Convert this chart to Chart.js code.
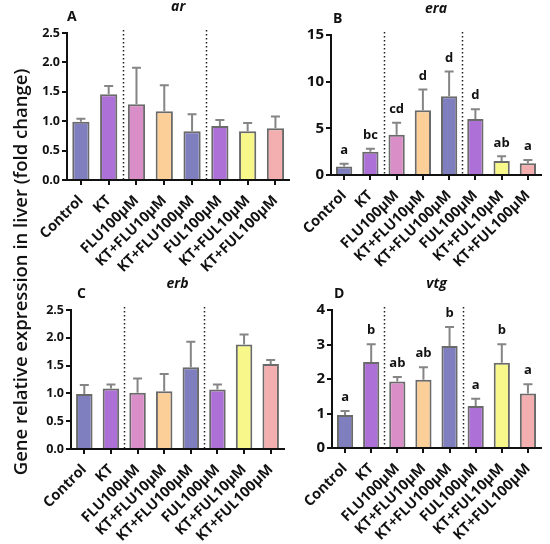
<!DOCTYPE html>
<html>
<head>
<meta charset="utf-8">
<script src="https://cdn.jsdelivr.net/npm/chart.js@4"></script>
<style>
  body { margin: 0; background: #fff; }
  #wrap { position: relative; width: 550px; height: 544px; overflow: hidden; }
  canvas { position: absolute; }
  #ylab {
    position: absolute; left: -230px; top: 259px; width: 500px; height: 26px;
    line-height: 26px; text-align: center; transform: rotate(-90deg);
    font-family: "Open Sans", sans-serif; font-weight: 600; font-size: 18.5px; color: #111;
  }
</style>
</head>
<body>
<div id="wrap">
  <canvas id="chartA" width="295" height="272" style="left:0;top:0"></canvas>
  <canvas id="chartB" width="275" height="272" style="left:275px;top:0"></canvas>
  <canvas id="chartC" width="295" height="272" style="left:0;top:272px"></canvas>
  <canvas id="chartD" width="275" height="272" style="left:275px;top:272px"></canvas>
  <div id="ylab">Gene relative expression in liver (fold change)</div>
</div>
<script>
// groups on the x axis
const categories = ['Control', 'KT', 'FLU100µM', 'KT+FLU10µM', 'KT+FLU100µM', 'FUL100µM', 'KT+FUL10µM', 'KT+FUL100µM'];

// ar
const arValues = [0.99, 1.46, 1.29, 1.17, 0.83, 0.92, 0.83, 0.88];
const arErrors = [0.05, 0.14, 0.62, 0.44, 0.29, 0.10, 0.14, 0.20];
// era
const eraValues = [0.9, 2.5, 4.3, 6.95, 8.45, 6.0, 1.5, 1.25];
const eraErrors = [0.3, 0.3, 1.3, 2.2, 2.65, 1.05, 0.5, 0.35];
const eraLetters = ['a', 'bc', 'cd', 'd', 'd', 'd', 'ab', 'a'];
// erb
const erbValues = [0.99, 1.09, 1.01, 1.04, 1.47, 1.07, 1.88, 1.53];
const erbErrors = [0.16, 0.07, 0.26, 0.31, 0.46, 0.09, 0.18, 0.07];
// vtg
const vtgValues = [0.96, 2.49, 1.93, 1.98, 2.96, 1.22, 2.47, 1.58];
const vtgErrors = [0.11, 0.52, 0.13, 0.36, 0.55, 0.21, 0.54, 0.27];
const vtgLetters = ['a', 'b', 'ab', 'ab', 'b', 'a', 'b', 'a'];

// y tick labels
const ticksA = [0, 0.5, 1.0, 1.5, 2.0, 2.5];
const ticksB = [0, 5, 10, 15];
const ticksD = [0, 1, 2, 3, 4];

const barColors = ['#7f7fc0', '#ac70d6', '#da8ec8', '#fdcf98', '#7f7fc0', '#ac70d6', '#f7f78a', '#f3afaf'];
const FONT = '"Open Sans", sans-serif';

// error bars, separators, significance letters, panel letter and title
const panelDecor = {
  id: 'panelDecor',
  afterDatasetsDraw(chart, args, opts) {
    const ctx = chart.ctx;
    const area = chart.chartArea;
    const yScale = chart.scales.y;
    const bars = chart.getDatasetMeta(0).data;
    const vals = chart.data.datasets[0].data;
    ctx.save();

    // dotted separators between groups
    ctx.strokeStyle = '#222';
    ctx.lineWidth = 1.5;
    ctx.setLineDash([1.5, 2.5]);
    [1, 4].forEach(i => {
      const x = Math.round((bars[i].x + bars[i + 1].x) / 2) + 0.5;
      ctx.beginPath();
      ctx.moveTo(x, area.top - 3);
      ctx.lineTo(x, area.bottom);
      ctx.stroke();
    });
    ctx.setLineDash([]);

    // error bars (upper only)
    ctx.strokeStyle = '#858585';
    ctx.lineWidth = 2;
    bars.forEach((bar, i) => {
      const top = yScale.getPixelForValue(vals[i] + opts.errors[i]);
      ctx.beginPath();
      ctx.moveTo(bar.x, bar.y);
      ctx.lineTo(bar.x, top);
      ctx.moveTo(bar.x - 4.5, top);
      ctx.lineTo(bar.x + 4.5, top);
      ctx.stroke();
    });

    // letters
    ctx.fillStyle = '#111';
    ctx.font = 'bold 13px ' + FONT;
    ctx.textAlign = 'center';
    ctx.textBaseline = 'bottom';
    if (opts.letters) {
      bars.forEach((bar, i) => {
        const top = yScale.getPixelForValue(vals[i] + opts.errors[i]);
        ctx.fillText(opts.letters[i], bar.x, top - 7);
      });
    }

    // panel letter and gene title
    ctx.textAlign = 'left';
    ctx.font = 'bold 14px ' + FONT;
    ctx.fillText(opts.panel, area.left + opts.panelDx, area.top - 9);
    ctx.textAlign = 'center';
    ctx.font = 'italic bold 14px ' + FONT;
    ctx.fillText(opts.title, (area.left + area.right) / 2, area.top - 19);
    ctx.restore();
  }
};

function makeChart(id, values, errors, letters, yMax, tickVals, decimals, geom) {
  new Chart(document.getElementById(id), {
    type: 'bar',
    data: {
      labels: categories,
      datasets: [{
        data: values,
        backgroundColor: barColors,
        borderColor: '#6a6a6a',
        borderWidth: 2,
        borderSkipped: 'bottom',
        barPercentage: 0.62,
        categoryPercentage: 1
      }]
    },
    options: {
      responsive: false,
      animation: false,
      devicePixelRatio: 1,
      layout: { padding: { top: geom.top, right: geom.right, left: 0, bottom: 0 } },
      plugins: {
        legend: { display: false },
        tooltip: { enabled: false },
        panelDecor: { errors: errors, letters: letters, panel: geom.panel, panelDx: geom.panelDx, title: geom.title }
      },
      scales: {
        x: {
          offset: true,
          grid: { display: true, drawOnChartArea: false, drawTicks: true, tickLength: 5, color: '#111', lineWidth: 2, offset: false },
          border: { color: '#111', width: 2 },
          ticks: {
            color: '#111',
            font: { family: FONT, weight: 'bold', size: 14.5 },
            minRotation: 45, maxRotation: 45, autoSkip: false, padding: 7
          },
          afterFit: axis => { axis.height = geom.xh; }
        },
        y: {
          min: 0, max: yMax,
          grid: { display: true, drawOnChartArea: false, drawTicks: true, tickLength: 5, color: '#111', lineWidth: 2 },
          border: { color: '#111', width: 2 },
          afterBuildTicks: axis => { axis.ticks = tickVals.map(v => ({ value: v })); },
          ticks: {
            color: '#111',
            padding: 2,
            font: { family: FONT, weight: 'bold', size: geom.yfont },
            callback: v => v.toFixed(decimals)
          },
          afterFit: axis => { axis.width = geom.yw; }
        }
      }
    },
    plugins: [panelDecor]
  });
}

makeChart('chartA', arValues, arErrors, null, 2.5, ticksA, 1,
  { top: 33, right: 4, xh: 92, yw: 67, yfont: 12.5, panel: 'A', panelDx: 0, title: 'ar' });
makeChart('chartB', eraValues, eraErrors, eraLetters, 15, ticksB, 0,
  { top: 35, right: 9, xh: 97, yw: 56, yfont: 15, panel: 'B', panelDx: 2, title: 'era' });
makeChart('chartC', erbValues, erbErrors, null, 2.5, ticksA, 1,
  { top: 38, right: 11, xh: 95, yw: 71, yfont: 12.5, panel: 'C', panelDx: 6, title: 'erb' });
makeChart('chartD', vtgValues, vtgErrors, vtgLetters, 4, ticksD, 0,
  { top: 38, right: 9, xh: 96, yw: 57, yfont: 15, panel: 'D', panelDx: 2, title: 'vtg' });
</script>
</body>
</html>
